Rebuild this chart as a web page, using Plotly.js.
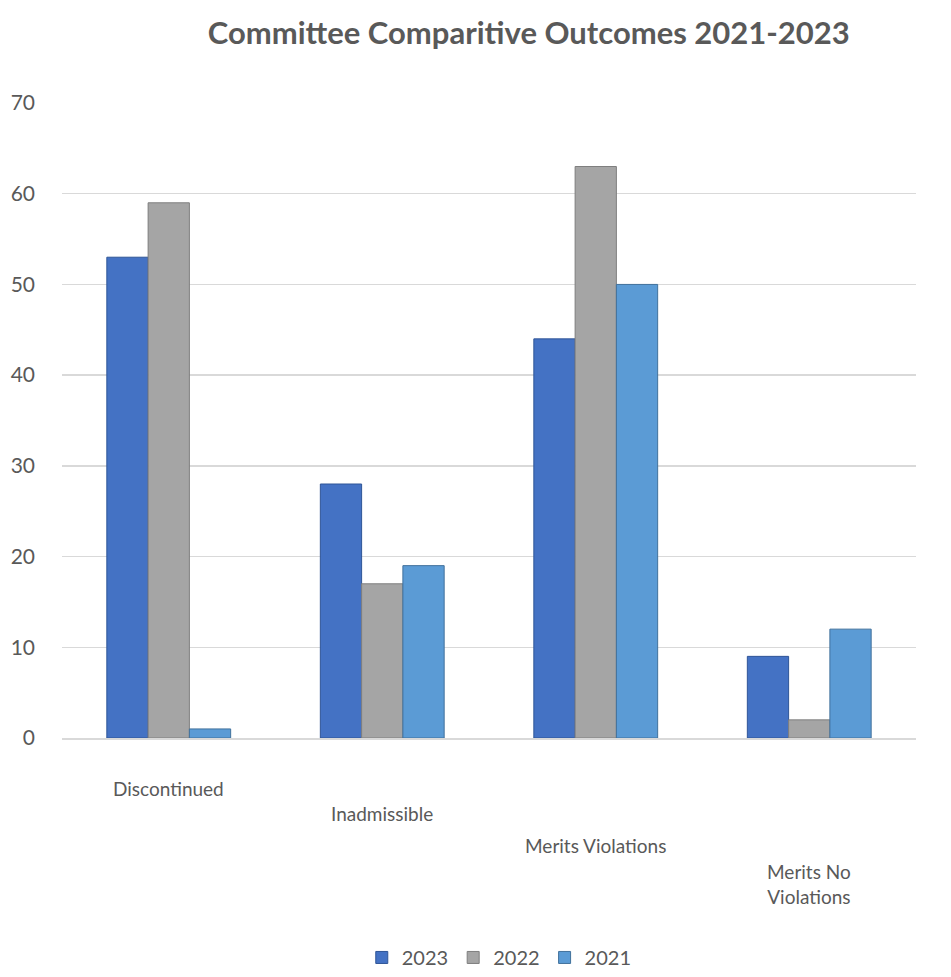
<!DOCTYPE html>
<html>
<head>
<meta charset="utf-8">
<script src="https://cdn.plot.ly/plotly-3.0.1.min.js"></script>
<style>html,body{margin:0;padding:0;background:#fff;}#chart{width:951px;height:977px;}</style>
</head>
<body>
<div id="chart"></div>
<script>
var categories = ["Discontinued", "Inadmissible", "Merits Violations", "Merits No<br>Violations"];
var values2023 = [53, 28, 44, 9];
var values2022 = [59, 17, 63, 2];
var values2021 = [1, 19, 50, 12];
var seriesNames = ["2023", "2022", "2021"];
var yTicks = [0, 10, 20, 30, 40, 50, 60, 70];

var colors = ["#4472C4", "#A5A5A5", "#5B9BD5"];
var lineColors = ["#2F5597", "#7F7F7F", "#41719C"];
var allValues = [values2023, values2022, values2021];

var traces = allValues.map(function (vals, i) {
  return {
    type: "bar",
    name: seriesNames[i],
    x: categories,
    y: vals,
    marker: { color: colors[i], line: { color: lineColors[i], width: 1 } },
    hoverinfo: "x+y+name"
  };
});

var font = "Lato, 'Open Sans', 'DejaVu Sans', sans-serif";

// category labels stagger downward like the perspective view of the original
var labelDrops = [50, 75, 107, 146];
var catAnnotations = categories.map(function (c, i) {
  return {
    x: c, xref: "x",
    y: 0, yref: "paper",
    yshift: -labelDrops[i],
    yanchor: "middle",
    showarrow: false,
    text: c,
    font: { family: font, size: 19, color: "#595959" }
  };
});

var layout = {
  width: 951,
  height: 977,
  paper_bgcolor: "#ffffff",
  plot_bgcolor: "#ffffff",
  margin: { l: 62, r: 35, t: 103, b: 239 },
  title: {
    text: "<b>Committee Comparitive Outcomes 2021-2023</b>",
    font: { family: font, size: 31, color: "#595959" },
    x: 0.556, xanchor: "center", xref: "container",
    y: 0.966, yanchor: "middle", yref: "container"
  },
  barmode: "group",
  bargap: 0.42,
  bargroupgap: 0,
  xaxis: {
    type: "category",
    showgrid: false,
    showline: true,
    linecolor: "#d9d9d9",
    linewidth: 1.5,
    ticks: "",
    showticklabels: false
  },
  yaxis: {
    range: [0, 70],
    tickvals: yTicks,
    ticktext: yTicks.map(String),
    showgrid: true,
    gridcolor: "#d9d9d9",
    gridwidth: 1.5,
    zeroline: false,
    showline: false,
    ticks: "",
    ticklabelstandoff: 26,
    tickfont: { family: font, size: 21, color: "#595959" }
  },
  annotations: catAnnotations,
  legend: {
    orientation: "h",
    x: 0.525, xanchor: "center", xref: "container",
    y: 0.02, yanchor: "middle", yref: "container",
    font: { family: font, size: 20, color: "#595959" },
    itemwidth: 30,
    traceorder: "normal"
  },
  showlegend: true
};

Plotly.newPlot("chart", traces, layout, { displayModeBar: false, staticPlot: true });
</script>
</body>
</html>
